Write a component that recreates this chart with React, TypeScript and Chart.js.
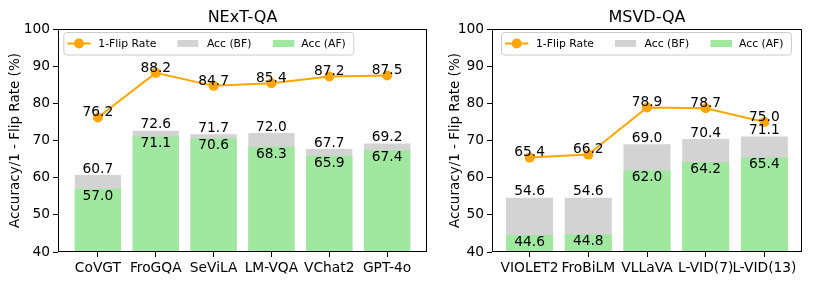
import React, { useEffect, useRef } from 'react';
import { Chart, registerables } from 'chart.js';

Chart.register(...registerables);

const FONT = '"DejaVu Sans", sans-serif';

const nextCategories = ['CoVGT', 'FroGQA', 'SeViLA', 'LM-VQA', 'VChat2', 'GPT-4o'];
const nextAccBF = [60.7, 72.6, 71.7, 72.0, 67.7, 69.2];
const nextAccAF = [57.0, 71.1, 70.6, 68.3, 65.9, 67.4];
const nextFlip = [76.2, 88.2, 84.7, 85.4, 87.2, 87.5];

const msvdCategories = ['VIOLET2', 'FroBiLM', 'VLLaVA', 'L-VID(7)', 'L-VID(13)'];
const msvdAccBF = [54.6, 54.6, 69.0, 70.4, 71.1];
const msvdAccAF = [44.6, 44.8, 62.0, 64.2, 65.4];
const msvdFlip = [65.4, 66.2, 78.9, 78.7, 75.0];

const yTicksMin = 40;
const yTicksMax = 100;
const yTickStep = 10;

const ORANGE = '#FFA500';
const GREY = '#D3D3D3';
const GREEN = '#A0E8A0';

type PanelProps = {
  title: string;
  categories: string[];
  bf: number[];
  af: number[];
  flip: number[];
  left: number;
  width: number;
  areaLeft: number;
  padRight: number;
  xMin: number;
  xMax: number;
  legendDx: number;
};

function Panel(p: PanelProps) {
  const ref = useRef<HTMLCanvasElement>(null);
  useEffect(() => {
    const canvas = ref.current!;
    const pts = (arr: number[]) => arr.map((v, i) => ({ x: i, y: v }));
    const decor = {
      id: 'decor',
      afterDatasetsDraw(chart: any) {
        const ctx = chart.ctx as CanvasRenderingContext2D;
        const xs = chart.scales.x;
        const ys = chart.scales.y;
        ctx.save();
        ctx.fillStyle = '#000';
        ctx.font = `13.8px ${FONT}`;
        ctx.textAlign = 'center';
        ctx.textBaseline = 'alphabetic';
        p.bf.forEach((v, i) => {
          ctx.fillText(v.toFixed(1), xs.getPixelForValue(i), ys.getPixelForValue(v) - 2.5);
        });
        p.af.forEach((v, i) => {
          ctx.fillText(v.toFixed(1), xs.getPixelForValue(i), ys.getPixelForValue(v) + 10.8);
        });
        p.flip.forEach((v, i) => {
          ctx.fillText(v.toFixed(1), xs.getPixelForValue(i), ys.getPixelForValue(v) - 1.2);
        });
        ctx.restore();
      },
      afterDraw(chart: any) {
        const ctx = chart.ctx as CanvasRenderingContext2D;
        const a = chart.chartArea;
        ctx.save();
        ctx.strokeStyle = '#000';
        ctx.lineWidth = 1;
        ctx.strokeRect(Math.round(a.left) + 0.5, Math.round(a.top) + 0.5, Math.round(a.right - a.left) - 1, Math.round(a.bottom - a.top) - 1);
        ctx.fillStyle = '#000';
        ctx.font = `16px ${FONT}`;
        ctx.textAlign = 'center';
        ctx.textBaseline = 'alphabetic';
        ctx.fillText(p.title, (a.left + a.right) / 2, 22);
        const lx = a.left + p.legendDx;
        const ly = 32;
        const lw = 290;
        const lh = 22.5;
        ctx.beginPath();
        (ctx as any).roundRect(lx + 0.5, ly + 0.5, lw, lh, 3);
        ctx.fillStyle = 'rgba(255,255,255,0.8)';
        ctx.fill();
        ctx.strokeStyle = '#cccccc';
        ctx.lineWidth = 1;
        ctx.stroke();
        const cy = ly + 11.5;
        ctx.strokeStyle = ORANGE;
        ctx.lineWidth = 2;
        ctx.beginPath();
        ctx.moveTo(lx + 4, cy);
        ctx.lineTo(lx + 27.4, cy);
        ctx.stroke();
        ctx.fillStyle = ORANGE;
        ctx.beginPath();
        ctx.arc(lx + 15.7, cy, 5, 0, Math.PI * 2);
        ctx.fill();
        ctx.fillStyle = GREY;
        ctx.fillRect(lx + 114, cy - 3.5, 21, 7);
        ctx.fillStyle = GREEN;
        ctx.fillRect(lx + 209.5, cy - 3.5, 21.5, 7);
        ctx.fillStyle = '#000';
        ctx.font = `10.8px ${FONT}`;
        ctx.textAlign = 'left';
        ctx.textBaseline = 'middle';
        ctx.fillText('1-Flip Rate', lx + 35, cy + 0.5);
        ctx.fillText('Acc (BF)', lx + 143.6, cy + 0.5);
        ctx.fillText('Acc (AF)', lx + 238, cy + 0.5);
        ctx.restore();
      },
    };

    const tickFont = { family: FONT, size: 13.8 };
    const grid = { display: true, drawOnChartArea: false, drawTicks: true, tickLength: 5, color: '#000', lineWidth: 1, offset: false };

    const chart = new Chart(canvas, {
      type: 'bar',
      data: {
        datasets: [
          {
            type: 'line',
            label: '1-Flip Rate',
            data: pts(p.flip),
            borderColor: ORANGE,
            backgroundColor: ORANGE,
            borderWidth: 2,
            pointRadius: 5,
            pointBorderWidth: 0,
            pointBackgroundColor: ORANGE,
            order: 0,
          } as any,
          {
            label: 'Acc (AF)',
            data: pts(p.af),
            backgroundColor: GREEN,
            base: yTicksMin,
            grouped: false,
            categoryPercentage: 1,
            barPercentage: 0.8,
            order: 1,
          },
          {
            label: 'Acc (BF)',
            data: pts(p.bf),
            backgroundColor: GREY,
            base: yTicksMin,
            grouped: false,
            categoryPercentage: 1,
            barPercentage: 0.8,
            order: 2,
          },
        ],
      },
      options: {
        responsive: false,
        animation: false,
        events: [],
        layout: { padding: { left: 0, right: p.padRight, top: 29, bottom: 0 } },
        plugins: { legend: { display: false }, tooltip: { enabled: false }, title: { display: false } },
        scales: {
          x: {
            type: 'linear',
            offset: false,
            min: p.xMin,
            max: p.xMax,
            afterBuildTicks: (s: any) => {
              s.ticks = p.categories.map((_, i) => ({ value: i }));
            },
            afterFit: (s: any) => {
              s.height = 32;
            },
            ticks: {
              autoSkip: false,
              maxRotation: 0,
              minRotation: 0,
              padding: 3,
              color: '#000',
              font: tickFont,
              callback: (v: any) => p.categories[v as number] ?? '',
            },
            grid,
            border: { display: false },
          },
          y: {
            min: yTicksMin,
            max: yTicksMax,
            afterFit: (s: any) => {
              s.width = p.areaLeft;
            },
            ticks: { stepSize: yTickStep, padding: 3, color: '#000', font: tickFont },
            grid,
            border: { display: false },
            title: {
              display: true,
              text: 'Accuracy/1 - Flip Rate (%)',
              color: '#000',
              font: { family: FONT, size: 13.5 },
              padding: { top: 7.5, bottom: 0 },
            },
          },
        },
      } as any,
      plugins: [decor],
    });
    return () => chart.destroy();
  }, []);
  return (
    <canvas
      ref={ref}
      width={p.width}
      height={284}
      style={{ position: 'absolute', left: p.left, top: 0, width: p.width, height: 284 }}
    />
  );
}

export default function App() {
  return (
    <div style={{ position: 'fixed', left: 0, top: 0, width: 814, height: 284, background: '#fff' }}>
      <Panel
        title="NExT-QA"
        categories={nextCategories}
        bf={nextAccBF}
        af={nextAccAF}
        flip={nextFlip}
        left={0}
        width={440}
        areaLeft={58}
        padRight={13}
        xMin={-0.69}
        xMax={5.69}
        legendDx={5.3}
      />
      <Panel
        title="MSVD-QA"
        categories={msvdCategories}
        bf={msvdAccBF}
        af={msvdAccAF}
        flip={msvdFlip}
        left={440}
        width={374}
        areaLeft={52}
        padRight={12}
        xMin={-0.64}
        xMax={4.64}
        legendDx={9}
      />
    </div>
  );
}
